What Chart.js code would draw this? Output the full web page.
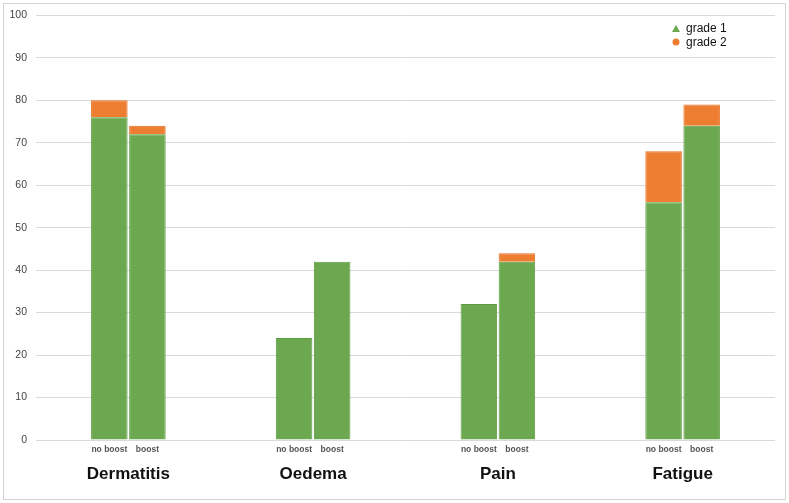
<!DOCTYPE html>
<html>
<head>
<meta charset="utf-8">
<script src="https://cdn.jsdelivr.net/npm/chart.js@4"></script>
<style>
  html, body { margin: 0; padding: 0; background: #fff; }
  #wrap { position: relative; width: 789px; height: 503px; }
</style>
</head>
<body>
<div id="wrap"><canvas id="graph" width="789" height="503"></canvas></div>
<script>
// dados
var categorias = ['Dermatitis', 'Oedema', 'Pain', 'Fatigue'];
var subLabels = ['no boost', 'boost'];
var grade1NoBoost = [76, 24, 32, 56];
var grade2NoBoost = [4, 0, 0, 12];
var grade1Boost = [72, 42, 42, 74];
var grade2Boost = [2, 0, 2, 5];
var legendLabels = ['grade 1', 'grade 2'];
var yTicks = [0, 10, 20, 30, 40, 50, 60, 70, 80, 90, 100];

var verde = '#6ca84f';
var verdeBorda = '#5e9c42';
var laranja = '#ed7d31';
var laranjaBorda = '#e9701f';
var fonte = 'Arial, "Liberation Sans", sans-serif';

// moldura cinza em volta de tudo
var moldura = {
  id: 'moldura',
  afterDraw: function (chart) {
    var ctx = chart.ctx;
    ctx.save();
    ctx.strokeStyle = '#d4d4d4';
    ctx.lineWidth = 1;
    ctx.strokeRect(3.5, 3.5, 782, 496);
    ctx.restore();
  }
};

// rotulos "no boost" / "boost" embaixo de cada barra
var subRotulos = {
  id: 'subRotulos',
  afterDatasetsDraw: function (chart) {
    var ctx = chart.ctx;
    var metaNb = chart.getDatasetMeta(0);
    var metaB = chart.getDatasetMeta(2);
    ctx.save();
    ctx.font = 'bold 8.5px ' + fonte;
    ctx.fillStyle = '#555';
    ctx.textAlign = 'center';
    ctx.textBaseline = 'middle';
    var y = chart.chartArea.bottom + 10;
    for (var i = 0; i < categorias.length; i++) {
      ctx.fillText(subLabels[0], metaNb.data[i].x, y);
      ctx.fillText(subLabels[1], metaB.data[i].x, y);
    }
    ctx.restore();
  }
};

// legenda dentro da area do grafico
var legenda = {
  id: 'legenda',
  afterDraw: function (chart) {
    var ctx = chart.ctx;
    var x = 676, y1 = 29, y2 = 43;
    ctx.save();
    ctx.fillStyle = verde;
    ctx.beginPath();
    ctx.moveTo(x, y1 - 4);
    ctx.lineTo(x + 4, y1 + 3);
    ctx.lineTo(x - 4, y1 + 3);
    ctx.closePath();
    ctx.fill();
    ctx.fillStyle = laranja;
    ctx.beginPath();
    ctx.arc(x, y2 - 1, 3.5, 0, Math.PI * 2);
    ctx.fill();
    ctx.fillStyle = '#111';
    ctx.font = '12px ' + fonte;
    ctx.textAlign = 'left';
    ctx.textBaseline = 'middle';
    ctx.fillText(legendLabels[0], x + 10, y1);
    ctx.fillText(legendLabels[1], x + 10, y2);
    ctx.restore();
  }
};

document.addEventListener('DOMContentLoaded', function () {
  var ctx = document.getElementById('graph');

  var myChart = new Chart(ctx, {
    type: 'bar',
    data: {
      labels: categorias,
      datasets: [
        { label: legendLabels[0], data: grade1NoBoost, stack: 'nb', backgroundColor: verde, borderColor: verdeBorda, borderWidth: 1 },
        { label: legendLabels[1], data: grade2NoBoost, stack: 'nb', backgroundColor: laranja, borderColor: laranjaBorda, borderWidth: 1 },
        { label: legendLabels[0], data: grade1Boost, stack: 'b', backgroundColor: verde, borderColor: verdeBorda, borderWidth: 1 },
        { label: legendLabels[1], data: grade2Boost, stack: 'b', backgroundColor: laranja, borderColor: laranjaBorda, borderWidth: 1 }
      ]
    },
    options: {
      responsive: false,
      maintainAspectRatio: false,
      animation: false,
      devicePixelRatio: 1,
      categoryPercentage: 0.412,
      barPercentage: 0.96,
      layout: {
        padding: { left: 0, right: 14, top: 14, bottom: 0 }
      },
      plugins: {
        legend: { display: false },
        tooltip: { enabled: false }
      },
      scales: {
        x: {
          grid: { display: false, drawTicks: false },
          border: { display: false },
          ticks: {
            color: '#111',
            padding: 24,
            autoSkip: false,
            maxRotation: 0,
            minRotation: 0,
            font: { family: fonte, size: 17, weight: 'bold' }
          },
          afterFit: function (scale) { scale.height = 63; }
        },
        y: {
          stacked: true,
          min: 0,
          max: 100,
          afterBuildTicks: function (scale) {
            scale.ticks = yTicks.map(function (v) { return { value: v }; });
          },
          grid: { color: '#d9d9d9', drawTicks: false },
          border: { display: false },
          ticks: {
            color: '#444',
            padding: 9,
            autoSkip: false,
            stepSize: 10,
            font: { family: fonte, size: 10.5 }
          },
          afterFit: function (scale) { scale.width = 36; }
        }
      }
    },
    plugins: [moldura, subRotulos, legenda]
  });
});
</script>
</body>
</html>
